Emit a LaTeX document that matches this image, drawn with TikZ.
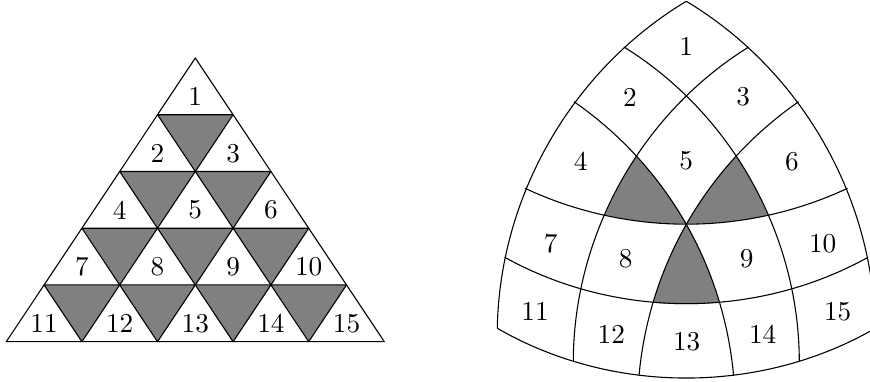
\documentclass[tikz,border=0pt]{standalone}
\usepackage{amsmath, amssymb}
\usepackage{xcolor}
\usepackage{tikz}
\usetikzlibrary{calc}

\begin{document}
\begin{tikzpicture}[x=0.0129cm, y=-0.0129cm, line join=round, looseness=0.9,
    shaded/.style={draw, fill=gray}]
    \clip (0,0) rectangle (870,382);

    % 1. Tam giac ben trai
    \coordinate (top) at (195.3,58);
    \coordinate (botL) at (6.3,341.7);
    \coordinate (botR) at (384.3,341.7);
    \draw (top) -- (botL) -- (botR) -- cycle;
    \foreach \row in {1,2,3,4} {
        \foreach \i in {1,...,\row} {
            \draw[shaded] ({195.3+(\i-(\row+1)/2-0.5)*75.6},{58+\row*56.74})
                -- ++(75.6,0) -- ++(-37.8,56.74) -- cycle;
        }
    }
    \foreach \row in {1,...,5} {
        \foreach \i in {1,...,\row} {
            \pgfmathtruncatemacro{\num}{\row*(\row-1)/2+\i}
            \node (t\num) at ({195.3+(\i-(\row+1)/2)*75.6},{58+(\row-1)*56.74+38.7}) {\num};
        }
    }

    % 2. Cac diem cua hinh ben phai
    \foreach \name/\pos in {A/{686.3,1.3}, L1/{624,47}, L2/{574,101.7}, L3/{525,188.3},
        L4/{504.7,257.3}, L5/{497.3,328.3}, R1/{748.7,47}, R2/{798.6,101.7},
        R3/{847.6,188.3}, R4/{868,257.3}, R5/{875.3,328.3},
        CL/{636.7,156}, CR/{736.7,156}, M/{686.3,224},
        EL/{605,215}, ER/{767.6,215}, GL/{653.3,302.7}, GR/{719.3,302.7},
        BL/{573.3,361}, BK/{639,375.7}, BN/{733.6,375.7}, BR/{799.3,361}} {
        \coordinate (\name) at (\pos);
    }

    % 3. Mien to xam
    \fill[gray] (CL) to[bend left=6.4] (M) to[bend left=6.2] (EL) to[bend left=5.2] (CL);
    \fill[gray] (CR) to[bend right=6.4] (M) to[bend right=6.2] (ER) to[bend right=5.2] (CR);
    \fill[gray] (M) to[bend left=6.5] (GR) to[bend left=5] (GL) to[bend left=6.5] (M);

    % 4. Cac cung
    \draw (A) to[bend right=29] (L5);
    \draw (A) to[bend left=29] (R5);
    \draw (L5) to[bend right=30] (R5);
    \draw (L1) to[bend left=29] (BR);
    \draw (R1) to[bend right=29] (BL);
    \draw (L2) to[bend left=25] (BN);
    \draw (R2) to[bend right=25] (BK);
    \draw (L3) to[bend right=25] (R3);
    \draw (L4) to[bend right=29] (R4);

    % 5. Nhan
    \foreach \num/\pos in {1/{686.3,46.7}, 2/{630,97.3}, 3/{743.3,96.7}, 4/{580.7,161.7},
        5/{686.3,161}, 6/{792,161.7}, 7/{550.7,243.3}, 8/{625.7,258.7}, 9/{746.7,258.7},
        10/{822.7,243.3}, 11/{535,311.7}, 12/{611.3,334.7}, 13/{686.7,341.3},
        14/{762.7,334.3}, 15/{837.7,311.7}} {
        \node (s\num) at (\pos) {\num};
    }
\end{tikzpicture}
\end{document}
